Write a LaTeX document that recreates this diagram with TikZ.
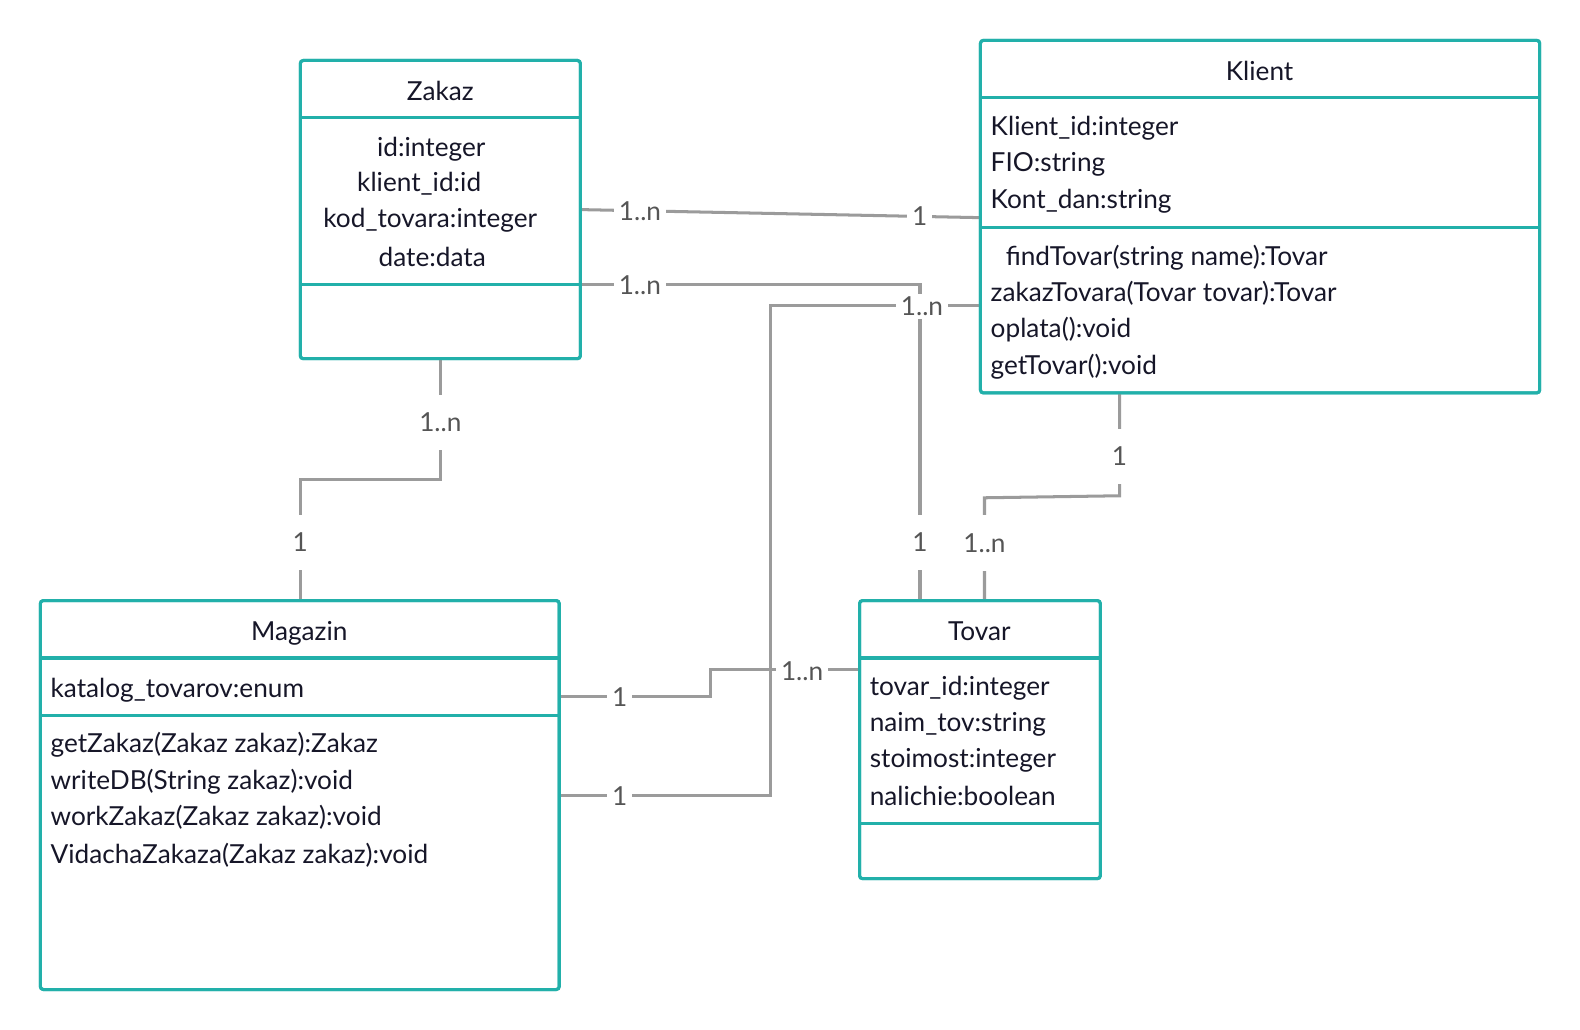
\documentclass[tikz,border=0pt]{standalone}
\usepackage{fontspec}
\setmainfont{Lato}
\usetikzlibrary{calc}
\definecolor{boxline}{RGB}{34,176,170}
\definecolor{conn}{RGB}{155,155,155}
\definecolor{lbltext}{RGB}{85,85,85}
\definecolor{ink}{RGB}{22,22,40}
\newcommand{\umlfont}{\fontsize{26}{30}\selectfont}

\begin{document}
\begin{tikzpicture}[x=1pt,y=-1pt,
  classbox/.style={draw=boxline, line width=3pt, rounded corners=3pt, anchor=north west, inner sep=0pt, outer sep=0pt, fill=none},
  divider/.style={draw=boxline, line width=3pt},
  link/.style={draw=conn, line width=3pt},
  mult/.style={fill=white, text=lbltext, font=\umlfont, inner xsep=5pt, inner ysep=3pt},
  multv/.style={mult, inner ysep=18pt},
  member/.style={text=ink, font=\umlfont, anchor=west, inner sep=0pt, text height=18pt, text depth=6pt},
  cmember/.style={member, anchor=center},
]
\useasboundingbox (0,0) rectangle (1568,1022);

% class frames
\node[classbox, minimum width=278pt, minimum height=296pt] (zakaz) at (298,60) {};
\node[classbox, minimum width=555pt, minimum height=350pt] (klient) at (973,40) {};
\node[classbox, minimum width=515pt, minimum height=386pt] (magazin) at (40,596) {};
\node[classbox, minimum width=239pt, minimum height=276pt] (tovar) at (853,596) {};

% associations
\draw[link] ($(zakaz.north east)+(0,148)$) -- ($(klient.north west)+(0,176)$)
  node[mult, pos=0.149] (m1a) {1..n}
  node[mult, pos=0.848] (m1b) {1};
\draw[link] ($(zakaz.north east)+(0,222)$) -| ($(tovar.north west)+(60,0)$);
\draw[link] ($(klient.north west)+(0,263)$) -- ++(-208,0) |- ($(magazin.north east)+(0,193)$);
\draw[link] ($(magazin.north east)+(0,95)$) -- ++(150,0) |- ($(tovar.north west)+(0,68)$);
\draw[link] ($(zakaz.south west)+(139,0)$) -- ++(0,120) -| ($(magazin.north west)+(258,0)$);
\draw[link] ($(klient.south west)+(138,0)$) -- ++(0,102) -- ++(-134,2) -- ($(tovar.north west)+(124,0)$);

% multiplicities
\node[mult] (m2a) at (635,283) {1..n};
\node[multv] (m2b) at (913,538) {1};
\node[mult] (m3a) at (915,304) {1..n};
\node[mult] (m3b) at (615,790) {1};
\node[mult] (m4a) at (615,692) {1};
\node[mult] (m4b) at (796,666) {1..n};
\node[multv] (m5a) at (437,419) {1..n};
\node[multv] (m5b) at (298,538) {1};
\node[multv] (m6a) at (1111,453) {1};
\node[multv] (m6b) at (977,539) {1..n};

% redraw frames over connector ends
\node[classbox, minimum width=278pt, minimum height=296pt] at (298,60) {};
\node[classbox, minimum width=555pt, minimum height=350pt] at (973,40) {};
\node[classbox, minimum width=515pt, minimum height=386pt] at (40,596) {};
\node[classbox, minimum width=239pt, minimum height=276pt] at (853,596) {};

% compartments
\draw[divider] (298,117) -- (576,117);
\draw[divider] (298,282) -- (576,282);
\draw[divider] (973,97) -- (1528,97);
\draw[divider] (973,226) -- (1528,226);
\draw[divider] (40,653) -- (555,653);
\draw[divider] (40,710) -- (555,710);
\draw[divider] (853,653) -- (1092,653);
\draw[divider] (853,817) -- (1092,817);

% Zakaz
\node[cmember] (zt) at (437,94) {Zakaz};
\node[cmember] (za1) at (428,149) {id:integer};
\node[cmember] (za2) at (416,184) {klient\_id:id};
\node[cmember] (za3) at (427,220) {kod\_tovara:integer};
\node[cmember] (za4) at (429,258) {date:data};

% Klient
\node[cmember] (kt) at (1250,74) {Klient};
\node[member] (ka1) at (983,128) {Klient\_id:integer};
\node[member] (ka2) at (983,164) {FIO:string};
\node[member] (ka3) at (983,201) {Kont\_dan:string};
\node[member] (km1) at (998,257) {findTovar(string name):Tovar};
\node[member] (km2) at (983,293) {zakazTovara(Tovar tovar):Tovar};
\node[member] (km3) at (983,329) {oplata():void};
\node[member] (km4) at (983,366) {getTovar():void};

% Magazin
\node[cmember] (mt) at (297,630) {Magazin};
\node[member] (ma1) at (50,686) {katalog\_tovarov:enum};
\node[member] (mm1) at (50,741) {getZakaz(Zakaz zakaz):Zakaz};
\node[member] (mm2) at (50,777) {writeDB(String zakaz):void};
\node[member] (mm3) at (50,813) {workZakaz(Zakaz zakaz):void};
\node[member] (mm4) at (50,851) {VidachaZakaza(Zakaz zakaz):void};

% Tovar
\node[cmember] (tt) at (972,630) {Tovar};
\node[member] (ta1) at (863,684) {tovar\_id:integer};
\node[member] (ta2) at (863,720) {naim\_tov:string};
\node[member] (ta3) at (863,756) {stoimost:integer};
\node[member] (ta4) at (863,793) {nalichie:boolean};
\end{tikzpicture}
\end{document}
